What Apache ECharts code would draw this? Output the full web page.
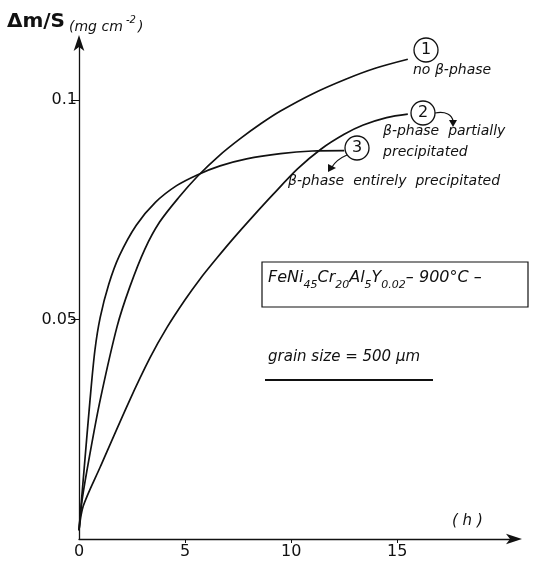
<!DOCTYPE html>
<html>
<head>
<meta charset="utf-8">
<script src="https://cdn.jsdelivr.net/npm/echarts@6.0.0/dist/echarts.min.js"></script>
<style>
  html, body { margin: 0; padding: 0; background: #fff; }
  #main { width: 549px; height: 561px; }
</style>
</head>
<body>
<div id="main"></div>
<script>
// mass gain curves, [time (h), dm/S (mg cm-2)]
var noBetaPhase = [[0, 0.002], [0.15, 0.009], [0.5, 0.019], [1.0, 0.0317], [1.8, 0.0485], [2.4, 0.0575], [3.1, 0.066], [3.8, 0.0722], [4.7, 0.0778], [5.6, 0.0827], [6.6, 0.0873], [7.6, 0.0912], [8.6, 0.0947], [9.5, 0.0975], [11, 0.1014], [12.6, 0.1048], [14, 0.1073], [15.5, 0.1093]];
var betaPartial = [[0, 0.002], [0.2, 0.0075], [1.0, 0.0164], [2.35, 0.0312], [3.35, 0.0413], [4.15, 0.0482], [5.0, 0.0545], [5.7, 0.0592], [6.5, 0.064], [7.3, 0.0686], [8.2, 0.0735], [9.15, 0.0785], [10.3, 0.0843], [11.4, 0.0888], [12.5, 0.0922], [13.4, 0.0943], [14.5, 0.096], [15.5, 0.0968]];
var betaEntire = [[0, 0.002], [0.12, 0.009], [0.25, 0.0164], [0.52, 0.0317], [0.75, 0.043], [1.0, 0.0505], [1.4, 0.058], [1.9, 0.0645], [2.7, 0.0715], [3.6, 0.0767], [4.6, 0.0805], [5.6, 0.083], [6.65, 0.085], [7.9, 0.0866], [9.5, 0.0878], [11, 0.0884], [12.5, 0.0885]];

var xTicks = [0, 5, 10, 15];
var yTicks = [0.05, 0.1];

var ink = '#111';
var txtFont = 'DejaVu Sans';

function curve(name, data) {
  return {
    name: name,
    type: 'line',
    data: data,
    smooth: 0.3,
    showSymbol: false,
    lineStyle: { color: ink, width: 1.7 },
    silent: true
  };
}

var chart = echarts.init(document.getElementById('main'));
var option = {
  backgroundColor: '#fff',
  animation: false,
  grid: { left: 79, top: 43, width: 437, height: 496 },
  xAxis: {
    type: 'value',
    min: 0,
    max: 20.6,
    splitLine: { show: false },
    axisLine: { lineStyle: { color: ink, width: 1.3 }, symbol: ['none', 'arrow'], symbolSize: [8, 16], symbolOffset: [0, 6] },
    axisTick: { customValues: [5, 10, 15], length: 4, lineStyle: { color: ink } },
    axisLabel: { customValues: xTicks, color: ink, fontFamily: txtFont, fontSize: 16, margin: 5 }
  },
  yAxis: {
    type: 'value',
    min: 0,
    max: 0.113,
    splitLine: { show: false },
    axisLine: { lineStyle: { color: ink, width: 1.3 }, symbol: ['none', 'arrow'], symbolSize: [8, 16], symbolOffset: [0, 8] },
    axisTick: { customValues: yTicks, length: 8, lineStyle: { color: ink } },
    axisLabel: { customValues: yTicks, color: ink, fontFamily: txtFont, fontSize: 16, margin: 2 }
  },
  series: [
    curve('no β-phase', noBetaPhase),
    curve('β-phase partially precipitated', betaPartial),
    curve('β-phase entirely precipitated', betaEntire)
  ],
  graphic: [
    // y axis title
    { type: 'text', left: 7, top: 12, style: { text: 'Δm/S', font: 'bold 20px DejaVu Sans', fill: ink } },
    { type: 'text', left: 69, top: 20, style: { text: '(mg cm', font: 'italic 14px DejaVu Sans', fill: ink } },
    { type: 'text', left: 126, top: 15, style: { text: '-2', font: 'italic 10px DejaVu Sans', fill: ink } },
    { type: 'text', left: 138, top: 20, style: { text: ')', font: 'italic 14px DejaVu Sans', fill: ink } },
    // x axis unit
    { type: 'text', left: 452, top: 514, style: { text: '( h )', font: 'italic 15px DejaVu Sans', fill: ink } },
    // curve markers
    { type: 'circle', shape: { cx: 426, cy: 50, r: 12 }, style: { fill: 'none', stroke: ink, lineWidth: 1.3 } },
    { type: 'text', x: 426, y: 50, style: { text: '1', font: '16px DejaVu Sans', fill: ink, align: 'center', verticalAlign: 'middle' } },
    { type: 'circle', shape: { cx: 423, cy: 113, r: 12 }, style: { fill: 'none', stroke: ink, lineWidth: 1.3 } },
    { type: 'text', x: 423, y: 113, style: { text: '2', font: '16px DejaVu Sans', fill: ink, align: 'center', verticalAlign: 'middle' } },
    { type: 'circle', shape: { cx: 357, cy: 148, r: 12 }, style: { fill: 'none', stroke: ink, lineWidth: 1.3 } },
    { type: 'text', x: 357, y: 148, style: { text: '3', font: '16px DejaVu Sans', fill: ink, align: 'center', verticalAlign: 'middle' } },
    // small curved arrows
    { type: 'bezierCurve', shape: { x1: 435, y1: 113, cpx1: 446, cpy1: 111, cpx2: 452, cpy2: 115, x2: 453, y2: 121 }, style: { stroke: ink, lineWidth: 1.2, fill: 'none' } },
    { type: 'polygon', shape: { points: [[449, 120], [457, 120], [453, 127]] }, style: { fill: ink } },
    { type: 'bezierCurve', shape: { x1: 347, y1: 155, cpx1: 340, cpy1: 158, cpx2: 335, cpy2: 162, x2: 332, y2: 167 }, style: { stroke: ink, lineWidth: 1.2, fill: 'none' } },
    { type: 'polygon', shape: { points: [[328, 164], [336, 168], [328, 172]] }, style: { fill: ink } },
    // labels
    { type: 'text', left: 413, top: 63, style: { text: 'no β-phase', font: 'italic 14px DejaVu Sans', fill: ink } },
    { type: 'text', left: 383, top: 121, style: { text: 'β-phase  partially\nprecipitated', font: 'italic 14px DejaVu Sans', fill: ink, lineHeight: 21 } },
    { type: 'text', left: 288, top: 174, style: { text: 'β-phase  entirely  precipitated', font: 'italic 14px DejaVu Sans', fill: ink } },
    // alloy box
    { type: 'rect', shape: { x: 262, y: 262, width: 266, height: 45 }, style: { fill: 'none', stroke: ink, lineWidth: 1.2 } },
    {
      type: 'text', left: 268, top: 270,
      style: {
        text: '{m|FeNi}{s|45}{m|Cr}{s|20}{m|Al}{s|5}{m|Y}{s|0.02}{m|– 900°C –}',
        rich: {
          m: { fontFamily: txtFont, fontSize: 16, fontStyle: 'italic', fill: ink, lineHeight: 26, verticalAlign: 'middle' },
          s: { fontFamily: txtFont, fontSize: 11, fontStyle: 'italic', fill: ink, lineHeight: 24, verticalAlign: 'bottom' }
        }
      }
    },
    // grain size note
    { type: 'text', left: 268, top: 350, style: { text: 'grain size = 500 µm', font: 'italic 15px DejaVu Sans', fill: ink } },
    { type: 'line', shape: { x1: 265, y1: 380, x2: 433, y2: 380 }, style: { stroke: ink, lineWidth: 2 } }
  ]
};
chart.setOption(option);
</script>
</body>
</html>
